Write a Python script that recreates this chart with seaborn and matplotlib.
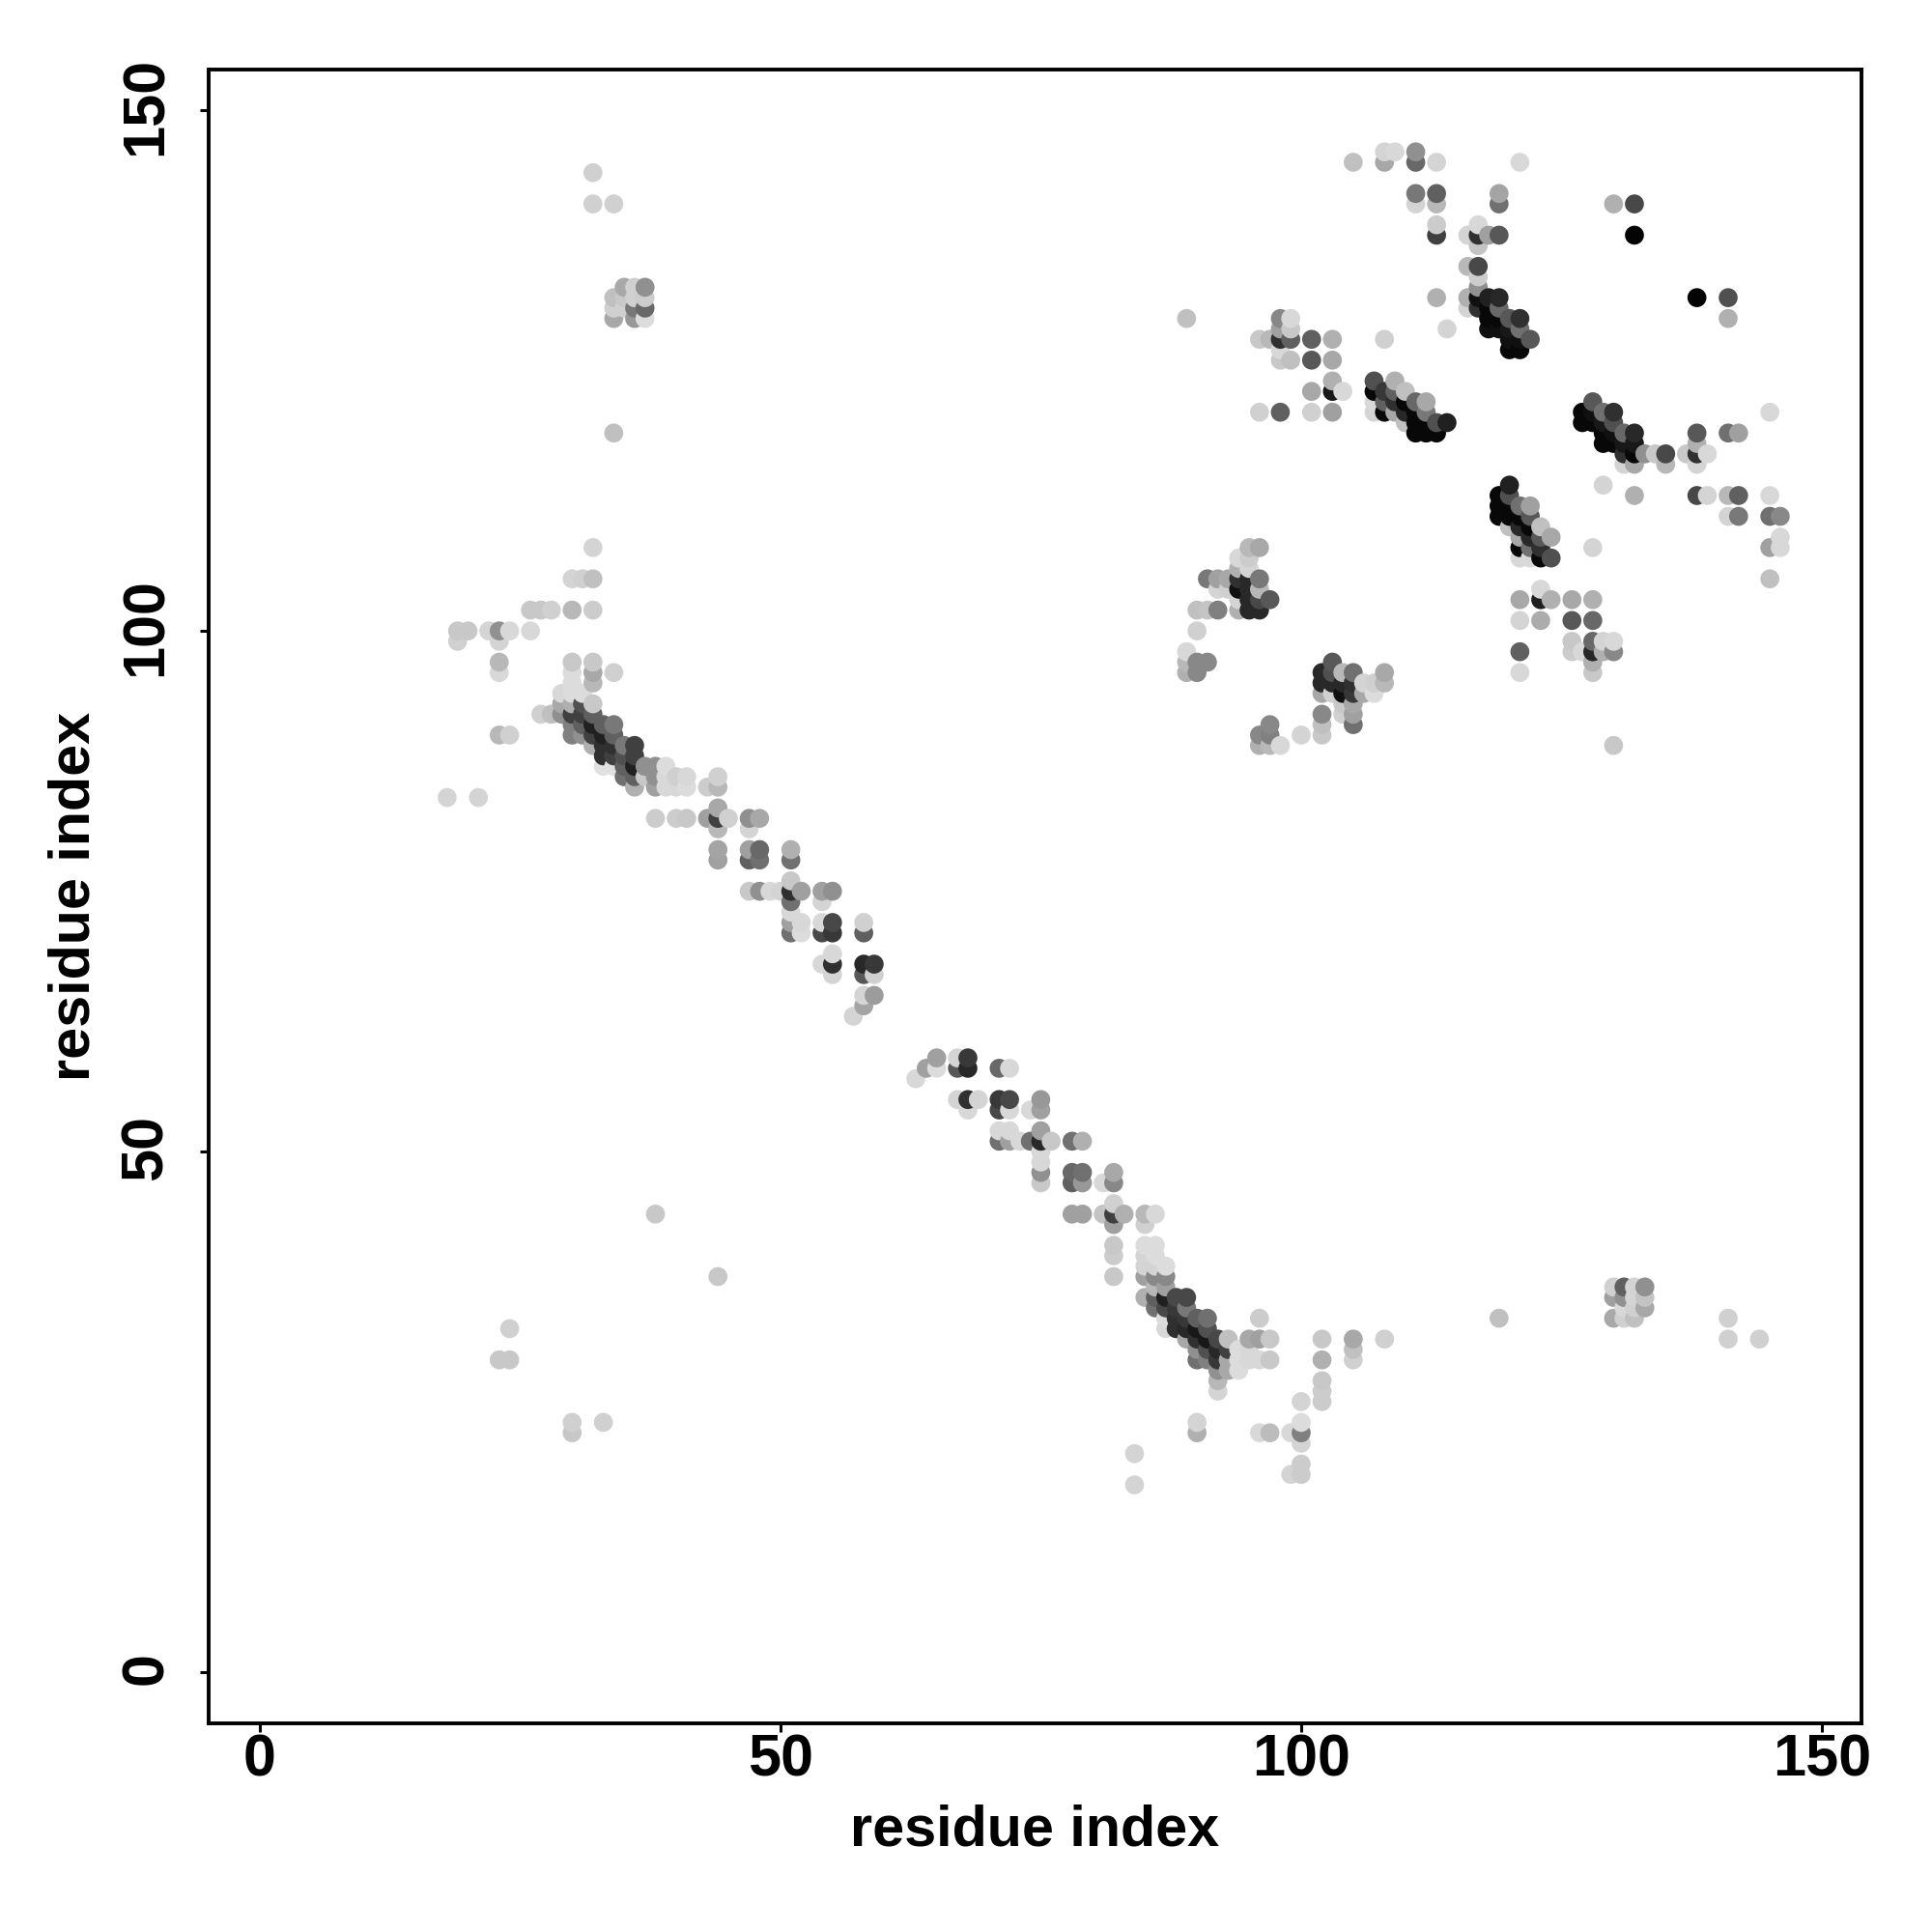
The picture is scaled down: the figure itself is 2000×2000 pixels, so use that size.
import numpy as np
import pandas as pd
import matplotlib
matplotlib.use("Agg")
import matplotlib.pyplot as plt
from matplotlib.transforms import ScaledTranslation
import seaborn as sns

# contact map, one entry per row of the map (top to bottom)
row_y = [146, 145, 144, 142, 141, 139, 138, 137, 135, 134, 133, 132, 131, 130, 129, 128, 127, 126,
         124, 123, 122, 121, 120, 119, 118, 117, 116, 114, 113, 112, 111, 110, 109, 108, 107, 106,
         105, 104, 103, 102, 101, 100, 99, 98, 97, 96, 95, 94, 93, 92, 91, 90, 89, 88, 87, 86, 85,
         84, 83, 82, 81, 79, 78, 76, 75, 74, 73, 72, 71, 69, 68, 67, 65, 64, 63, 59, 58, 57, 55, 54,
         52, 51, 50, 49, 48, 47, 45, 44, 43, 41, 40, 39, 38, 37, 36, 35, 34, 33, 32, 31, 30, 29, 28,
         27, 26, 24, 23, 22, 21, 20, 19, 18]

x_rows = [
    [108, 109, 111],
    [105, 108, 111, 113, 121],
    [32],
    [111, 113, 119],
    [32, 34, 111, 113, 119, 130, 132],
    [113, 117],
    [113, 116, 117, 118, 119, 132],
    [117],
    [116, 117],
    [117],
    [35, 36, 37, 117],
    [34, 35, 36, 37, 113, 116, 117, 118, 119, 138, 141],
    [34, 35, 36, 37, 116, 117, 118, 119],
    [34, 36, 37, 89, 98, 99, 118, 119, 120, 121, 141],
    [98, 99, 114, 118, 119, 120, 121],
    [96, 97, 98, 99, 101, 103, 108, 120, 121, 122],
    [98, 120, 121],
    [98, 99, 101, 103],
    [103, 107, 109],
    [101, 103, 104, 107, 108, 109, 110],
    [107, 108, 109, 110, 111, 112, 128],
    [96, 98, 101, 103, 107, 108, 109, 110, 111, 112, 127, 128, 129, 130, 145],
    [110, 111, 112, 113, 114, 127, 128, 129, 130],
    [34, 111, 112, 113, 129, 130, 131, 132, 138, 141, 142],
    [129, 130, 131, 132, 138],
    [131, 132, 133, 134, 135, 137, 138, 139],
    [131, 132, 135, 138],
    [120, 129],
    [119, 120, 132, 138, 139, 141, 142, 145],
    [119, 120, 121, 122],
    [119, 120, 121, 122, 141, 142, 145, 146],
    [120, 121, 122, 123],
    [121, 122, 123, 124, 146],
    [32, 95, 96, 121, 122, 123, 128, 145, 146],
    [94, 95, 121, 122, 123, 124],
    [94, 95],
    [30, 31, 32, 91, 92, 93, 94, 95, 96, 145],
    [92, 93, 94, 95, 96, 123],
    [94, 95, 96, 97, 121, 123, 124, 126, 128],
    [26, 27, 28, 30, 32, 90, 91, 92, 94, 95, 96],
    [121, 123, 126, 128],
    [19, 20, 22, 23, 24, 26, 90],
    [19, 23, 126, 128, 129, 130],
    [89, 121, 126, 127, 128, 129, 130],
    [23, 30, 32, 89, 90, 91, 103, 128],
    [23, 30, 32, 34, 89, 90, 102, 103, 104, 105, 108, 121, 128],
    [30, 32, 102, 103, 104, 105, 106, 107, 108],
    [29, 30, 31, 102, 103, 104, 105, 106, 107],
    [29, 30, 31, 32, 104, 105],
    [27, 28, 29, 30, 31, 32, 102, 104, 105],
    [30, 31, 32, 33, 34, 97, 102, 105],
    [23, 24, 30, 31, 32, 33, 34, 96, 97, 100, 102],
    [32, 33, 34, 35, 36, 96, 97, 98, 130],
    [33, 34, 35, 36],
    [33, 34, 35, 36, 37, 38, 39],
    [35, 36, 37, 38, 39, 40, 41, 44],
    [36, 38, 39, 40, 41, 43, 44],
    [18, 21],
    [44],
    [38, 40, 41, 43, 44, 45, 47, 48],
    [44, 47],
    [44, 47, 48, 51],
    [44, 47, 48, 51],
    [51],
    [47, 48, 49, 50, 51, 52, 54, 55],
    [51, 54],
    [51],
    [51, 52, 54, 55, 58],
    [51, 52, 54, 55, 58],
    [55],
    [54, 55, 58, 59],
    [55, 58, 59],
    [58, 59],
    [58],
    [57],
    [65, 67, 68],
    [64, 65, 67, 68, 71, 72],
    [63],
    [67, 68, 69, 71, 72, 75],
    [68, 71, 72, 74, 75],
    [71, 72, 75],
    [71, 72, 73, 74, 75, 76, 78, 79],
    [75],
    [75],
    [75, 78, 79, 82],
    [75, 78, 79, 81, 82],
    [82],
    [38, 78, 79, 81, 82, 83, 85, 86],
    [82, 85],
    [82, 85, 86],
    [82, 85, 86],
    [85, 86, 87],
    [44, 82, 85, 86, 87],
    [86, 87, 130, 131, 132, 133],
    [85, 86, 87, 88, 89, 130, 131, 132, 133],
    [86, 87, 88, 89, 131, 132, 133],
    [87, 88, 89, 90, 91, 96, 119, 130, 131, 132, 141],
    [24, 87, 88, 89, 90, 91],
    [89, 90, 91, 92, 93, 95, 96, 97, 102, 105, 108, 141, 144],
    [90, 91, 92, 93, 94, 95, 105],
    [23, 24, 90, 91, 92, 93, 94, 95, 96, 97, 102, 105],
    [92, 93, 94],
    [92, 102],
    [92, 102],
    [100, 102],
    [30, 33, 90, 100],
    [30, 90, 96, 97, 99, 100],
    [100],
    [84],
    [100],
    [99, 100],
    [84],
]

# grey level of every point, 0 = black
grey_rows = [
    [0xd4, 0xd8, 0x90],
    [0xc0, 0xa8, 0x68, 0xd4, 0xd8],
    [0xd0],
    [0x78, 0x60, 0xa4],
    [0xd0, 0xd0, 0xd4, 0xb8, 0x70, 0xb0, 0x48],
    [0xcc, 0xd8],
    [0x40, 0xd4, 0x30, 0xa0, 0x58, 0x04],
    [0xc4],
    [0xb8, 0x48],
    [0xcc],
    [0xa8, 0xd0, 0x90, 0x90],
    [0xc0, 0xc8, 0xd0, 0xcc, 0xb0, 0xb0, 0x10, 0x20, 0x28, 0x04, 0x50],
    [0xd0, 0xd0, 0x78, 0x68, 0xd4, 0x30, 0x08, 0x68],
    [0xa8, 0x98, 0xdc, 0xc0, 0x88, 0xd8, 0x08, 0x08, 0x58, 0x30, 0xb0],
    [0xa0, 0xc8, 0xd4, 0x10, 0x10, 0x18, 0x70],
    [0xc8, 0xb8, 0x30, 0x60, 0x60, 0xb0, 0xd0, 0x10, 0x10, 0x58],
    [0xd8, 0x08, 0x08],
    [0xc8, 0xc0, 0x58, 0xa8],
    [0xb0, 0x50, 0xb0],
    [0xa8, 0x18, 0xd8, 0x08, 0x38, 0x60, 0xc0],
    [0xd8, 0x60, 0x30, 0x08, 0x68, 0xa8, 0x58],
    [0xd0, 0x60, 0xd0, 0xa0, 0xd4, 0x08, 0xa8, 0x28, 0x08, 0x78, 0x08, 0x10, 0x70, 0x30, 0xd8],
    [0xc0, 0x08, 0x08, 0x50, 0x20, 0x08, 0x08, 0x18, 0x50],
    [0xc0, 0x08, 0x08, 0x08, 0x08, 0x10, 0x68, 0x28, 0x58, 0x70, 0xa0],
    [0x08, 0x08, 0x18, 0x18, 0xb0],
    [0x30, 0x08, 0x90, 0xc8, 0x48, 0xc8, 0x30, 0xd8],
    [0xd4, 0xa8, 0xb8, 0xd4],
    [0x20, 0xd4],
    [0x08, 0x50, 0xb0, 0x48, 0xd4, 0xb8, 0x60, 0xd8],
    [0x08, 0x08, 0x70, 0xa0],
    [0x08, 0x08, 0x08, 0x58, 0xd4, 0x78, 0x70, 0x88],
    [0xc0, 0x28, 0x08, 0xc0],
    [0xa8, 0x28, 0x58, 0xa8, 0xd8],
    [0xd4, 0xb8, 0xa8, 0x08, 0x70, 0x30, 0xd4, 0xa0, 0xd8],
    [0xd8, 0xcc, 0xd8, 0xd8, 0x08, 0x50],
    [0xb0, 0xd4],
    [0xd4, 0xd0, 0xc0, 0x78, 0xa0, 0xa8, 0x30, 0x28, 0x78, 0xc0],
    [0xd4, 0xd0, 0x10, 0x28, 0xb8, 0xd8],
    [0xd4, 0x28, 0x48, 0x58, 0xa8, 0x20, 0xb0, 0xa8, 0xb0],
    [0xc8, 0xc8, 0xd0, 0xb8, 0xcc, 0xc0, 0xc4, 0x80, 0xb0, 0x28, 0x28],
    [0xd4, 0xac, 0x58, 0x68],
    [0xc8, 0xc8, 0xd4, 0x90, 0xd8, 0xd8, 0xd0],
    [0xd0, 0xd4, 0xc8, 0x68, 0xd4, 0xd8],
    [0xd8, 0x60, 0xcc, 0xd8, 0x28, 0xb0, 0x88],
    [0xb8, 0xc8, 0xc8, 0xb8, 0x88, 0x88, 0x58, 0xb0],
    [0xd8, 0xdc, 0xa8, 0xd0, 0xb0, 0x88, 0x28, 0x50, 0xb8, 0x70, 0xa8, 0xd8, 0xc8],
    [0xdc, 0xb8, 0x28, 0x28, 0x28, 0x30, 0xd4, 0xd0, 0xb8],
    [0xd8, 0xdc, 0xdc, 0xa8, 0xd0, 0x10, 0x38, 0xa8, 0xdc],
    [0xa8, 0xb0, 0x50, 0xc8, 0xc8, 0xa8],
    [0xd0, 0xc0, 0x90, 0x40, 0x40, 0x60, 0x88, 0xd0, 0xa0],
    [0x80, 0x60, 0x20, 0x60, 0x78, 0x88, 0xc0, 0x70],
    [0xb8, 0xd0, 0x80, 0x90, 0x40, 0x20, 0x60, 0x88, 0x80, 0xd4, 0xc8],
    [0xb0, 0x30, 0x30, 0x78, 0x40, 0xb0, 0xb8, 0xd8, 0xc8],
    [0x30, 0x40, 0x50, 0x40],
    [0xe0, 0xe0, 0x60, 0x20, 0x90, 0x90, 0xdc],
    [0x70, 0x60, 0xc8, 0x90, 0xd8, 0xd0, 0xd8, 0xd0],
    [0xb0, 0xa0, 0xd8, 0xd8, 0xdc, 0xcc, 0xb8],
    [0xd4, 0xd4],
    [0xa8],
    [0xcc, 0xcc, 0xc8, 0xa0, 0x40, 0xd0, 0x90, 0xa8],
    [0xb8, 0xd4],
    [0xa4, 0xa0, 0x68, 0xb0],
    [0xa0, 0x60, 0x70, 0x70],
    [0xc8],
    [0xc8, 0x90, 0xd8, 0xd4, 0x30, 0xa0, 0xa0, 0x90],
    [0x70, 0xd4],
    [0xd8],
    [0xa0, 0xd8, 0xd8, 0x48, 0xd0],
    [0x70, 0xdc, 0x48, 0x38, 0x60],
    [0xd8],
    [0xd8, 0x30, 0x28, 0x38],
    [0xd4, 0x58, 0xd0],
    [0xd4, 0x9c],
    [0xa4],
    [0xd4],
    [0xa0, 0xd4, 0x38],
    [0xa0, 0xdc, 0x58, 0x28, 0x68, 0xd8],
    [0xd8],
    [0xd4, 0x30, 0xd4, 0x38, 0x48, 0x98],
    [0xd8, 0x48, 0xd8, 0xd8, 0xa0],
    [0xd8, 0xd8, 0xa0],
    [0x70, 0xa0, 0xd8, 0x70, 0x28, 0xc8, 0x70, 0xb0],
    [0xd8],
    [0xd8],
    [0x90, 0x68, 0x70, 0xa8],
    [0xc8, 0x60, 0x98, 0xd8, 0x88],
    [0xd0],
    [0xc8, 0xa0, 0xa0, 0xc4, 0x40, 0xb0, 0xb8, 0xd8],
    [0xa0, 0xd0],
    [0xc8, 0xdc, 0xdc],
    [0xcc, 0xd4, 0xdc],
    [0xd4, 0xd4, 0xdc],
    [0xc8, 0xc8, 0xa0, 0x88, 0x88],
    [0xb8, 0xa0, 0xd0, 0x60, 0xd4, 0x90],
    [0xb0, 0x60, 0x20, 0x48, 0x48, 0xa0, 0x90, 0xd4, 0xc4],
    [0x70, 0x48, 0x38, 0x78, 0xd8, 0xd0, 0xa8],
    [0xdc, 0x30, 0x38, 0x60, 0x70, 0xcc, 0xc0, 0xa8, 0xd0, 0xc0, 0xd0],
    [0xd0, 0xd8, 0x30, 0x28, 0x18, 0x50],
    [0xa8, 0x30, 0x18, 0x48, 0xc0, 0xa8, 0xa0, 0xc8, 0xc8, 0xa8, 0xd0, 0xd0, 0xd0],
    [0x90, 0x50, 0x28, 0x40, 0xdc, 0xd8, 0xc0],
    [0xc8, 0xc8, 0x70, 0x80, 0x38, 0xa8, 0xdc, 0xd8, 0xd8, 0xc8, 0xb0, 0xd0],
    [0x90, 0xa8, 0xdc],
    [0xb8, 0xc8],
    [0xd4, 0xcc],
    [0xd4, 0xcc],
    [0xd0, 0xd0, 0xd4, 0xdc],
    [0xc8, 0xb0, 0xd8, 0xbc, 0xd8, 0x80],
    [0xd4],
    [0xd4],
    [0xcc],
    [0xd4, 0xcc],
    [0xd4],
]

tick_values = [0, 50, 100, 150]
axis_name = "residue index"

x_res = [v for row in x_rows for v in row]
grey = [v for row in grey_rows for v in row]
y_res = np.repeat(row_y, [len(row) for row in x_rows])

df = pd.DataFrame({"x": x_res, "y": y_res, "grey": grey})
# points were laid down column by column, later ones cover earlier ones
df = df.sort_values(["x", "y"]).reset_index(drop=True)

sns.set_style("white")
plt.rcParams["font.family"] = ["Liberation Sans", "DejaVu Sans"]
plt.rcParams["font.weight"] = "bold"

fig = plt.figure(figsize=(10, 10), dpi=200)
ax = fig.add_axes([216 / 2000, 216 / 2000, 1711 / 2000, 1712.5 / 2000])

sns.scatterplot(data=df, x="x", y="y", hue="grey", palette="gray", hue_norm=(0, 255),
                s=50, linewidth=0, alpha=1, legend=False, ax=ax)

ax.set_xlim(-4.9, 153.8)
ax.set_ylim(-4.9, 153.95)
ax.set_xticks(tick_values)
ax.set_yticks(tick_values)
ax.tick_params(axis="both", length=3.2, width=1.1, color="black", left=True, bottom=True,
               labelsize=22, labelcolor="black")
ax.tick_params(axis="x", pad=0.7)
ax.tick_params(axis="y", pad=9.5)
for lab in ax.get_yticklabels():
    lab.set_rotation(90)
    lab.set_va("center")
    # nudge up a little so the digits sit on the tick
    lab.set_transform(lab.get_transform() + ScaledTranslation(0, 4 / 200, fig.dpi_scale_trans))

ax.set_xlabel(axis_name, fontsize=21.4, fontweight="bold", color="black", labelpad=5.5)
ax.set_ylabel(axis_name, fontsize=21.4, fontweight="bold", color="black", labelpad=7)

for side in ax.spines.values():
    side.set_visible(True)
    side.set_color("black")
    side.set_linewidth(1.4)

fig.savefig("out.png", dpi=200, facecolor="white")
